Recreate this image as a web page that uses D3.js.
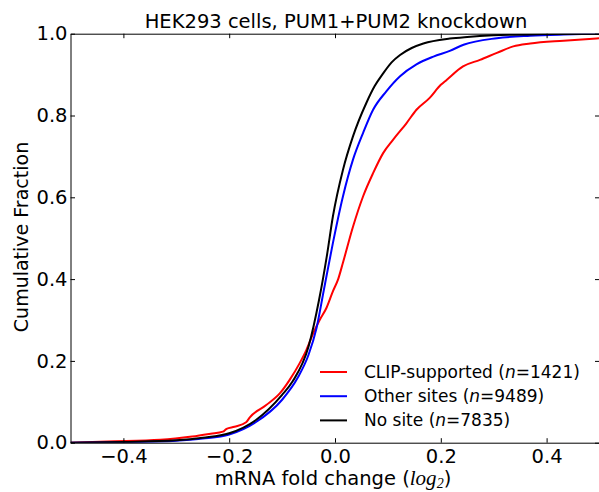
<!DOCTYPE html>
<html>
<head>
<meta charset="utf-8">
<script src="https://cdn.jsdelivr.net/npm/d3@7"></script>
<style>
  body { margin: 0; background: #fff; }
  text { font-family: "DejaVu Sans", sans-serif; fill: #000; }
</style>
</head>
<body>
<div id="chart"></div>
<script>
// Series: fold change (log2) and cumulative fraction
var clipX = [-0.5, -0.43, -0.33, -0.27, -0.235, -0.212, -0.205, -0.19, -0.168, -0.161, -0.13, -0.104, -0.086, -0.067, -0.054, -0.041, -0.029, -0.016, -0.004, 0.006, 0.015, 0.034, 0.053, 0.072, 0.091, 0.11, 0.135, 0.154, 0.179, 0.2, 0.211, 0.242, 0.274, 0.306, 0.337, 0.369, 0.432, 0.5];
var clipF = [0, 0.003, 0.007, 0.015, 0.022, 0.027, 0.034, 0.039, 0.05, 0.062, 0.092, 0.121, 0.153, 0.194, 0.227, 0.268, 0.3, 0.33, 0.37, 0.4, 0.44, 0.528, 0.602, 0.659, 0.708, 0.741, 0.781, 0.814, 0.843, 0.875, 0.887, 0.92, 0.936, 0.953, 0.969, 0.976, 0.983, 0.989];

var otherX = [-0.5, -0.4, -0.3, -0.25, -0.2, -0.15, -0.1, -0.07, -0.05, -0.035, -0.021, -0.004, 0.015, 0.034, 0.053, 0.072, 0.097, 0.123, 0.154, 0.186, 0.217, 0.243, 0.306, 0.369, 0.432, 0.5];
var otherF = [0, 0.001, 0.005, 0.01, 0.02, 0.05, 0.105, 0.16, 0.215, 0.28, 0.374, 0.488, 0.602, 0.692, 0.757, 0.814, 0.859, 0.896, 0.925, 0.944, 0.958, 0.973, 0.989, 0.995, 0.998, 1.0];

var noneX = [-0.5, -0.4, -0.3, -0.25, -0.2, -0.15, -0.1, -0.08, -0.05, -0.03, -0.015, -0.004, 0.015, 0.034, 0.059, 0.075, 0.091, 0.107, 0.123, 0.145, 0.167, 0.217, 0.25, 0.3, 0.4, 0.5];
var noneF = [0, 0.002, 0.006, 0.012, 0.023, 0.055, 0.117, 0.15, 0.235, 0.35, 0.46, 0.553, 0.667, 0.749, 0.83, 0.872, 0.903, 0.93, 0.948, 0.965, 0.976, 0.988, 0.992, 0.996, 0.999, 1.0];

var seriesNames = ["CLIP-supported", "Other sites", "No site"];
var seriesN = ["1421", "9489", "7835"];
var seriesColors = ["#ff0000", "#0000ff", "#000000"];

var xTicks = [-0.4, -0.2, 0.0, 0.2, 0.4];
var yTicks = [0.0, 0.2, 0.4, 0.6, 0.8, 1.0];

// SVG window
var svgWidth = 599;
var svgHeight = 492;
var plot = { left: 70.5, right: 599.5, top: 33.7, bottom: 442.7 };

var svg = d3.select("#chart")
  .append("svg")
  .attr("width", svgWidth)
  .attr("height", svgHeight);

var xScale = d3.scaleLinear().domain([-0.5, 0.5]).range([plot.left, plot.right]);
var yScale = d3.scaleLinear().domain([0, 1]).range([plot.bottom, plot.top]);

svg.append("clipPath").attr("id", "clip")
  .append("rect")
  .attr("x", plot.left).attr("y", plot.top)
  .attr("width", plot.right - plot.left).attr("height", plot.bottom - plot.top);

// curves
var line = d3.line()
  .x(d => xScale(d[0]))
  .y(d => yScale(d[1]))
  .curve(d3.curveMonotoneX);

var allX = [clipX, otherX, noneX];
var allF = [clipF, otherF, noneF];

allX.forEach(function(xs, i) {
  var pts = xs.map((v, j) => [v, allF[i][j]]);
  svg.append("path")
    .datum(pts)
    .attr("clip-path", "url(#clip)")
    .attr("fill", "none")
    .attr("stroke", seriesColors[i])
    .attr("stroke-width", 2)
    .attr("d", line);
});

// axes, ticks pointing inward
var fmt = d3.format(".1f");

var bottomAxis = svg.append("g")
  .attr("transform", `translate(0, ${plot.bottom})`)
  .call(d3.axisBottom(xScale).tickValues(xTicks).tickFormat(fmt)
    .tickSizeInner(-4.5).tickSizeOuter(0).tickPadding(6));

var topAxis = svg.append("g")
  .attr("transform", `translate(0, ${plot.top})`)
  .call(d3.axisTop(xScale).tickValues(xTicks).tickFormat("")
    .tickSizeInner(-4.5).tickSizeOuter(0));

var leftAxis = svg.append("g")
  .attr("transform", `translate(${plot.left}, 0)`)
  .call(d3.axisLeft(yScale).tickValues(yTicks).tickFormat(fmt)
    .tickSizeInner(-4.5).tickSizeOuter(0).tickPadding(3));

var rightAxis = svg.append("g")
  .attr("transform", `translate(${plot.right}, 0)`)
  .call(d3.axisRight(yScale).tickValues(yTicks).tickFormat("")
    .tickSizeInner(-4.5).tickSizeOuter(0));

svg.selectAll(".domain").attr("stroke", "#000").attr("stroke-width", 1);
svg.selectAll(".tick line").attr("stroke", "#000").attr("stroke-width", 1);
svg.selectAll(".tick text")
  .style("font-family", '"DejaVu Sans", sans-serif')
  .style("font-size", "19.5px")
  .attr("fill", "#000");

// title
svg.append("text")
  .attr("x", 336)
  .attr("y", 28)
  .attr("text-anchor", "middle")
  .style("font-size", "19.5px")
  .text("HEK293 cells, PUM1+PUM2 knockdown");

// y label
svg.append("text")
  .attr("transform", "translate(28, 237) rotate(-90)")
  .attr("text-anchor", "middle")
  .style("font-size", "19px")
  .text("Cumulative Fraction");

// x label
var xLabel = svg.append("text")
  .attr("x", 333)
  .attr("y", 484.5)
  .attr("text-anchor", "middle")
  .style("font-size", "19.5px");
xLabel.append("tspan").text("mRNA fold change (");
xLabel.append("tspan")
  .style("font-family", '"Liberation Serif", serif')
  .style("font-style", "italic")
  .style("font-size", "21px")
  .text("log");
xLabel.append("tspan")
  .style("font-family", '"Liberation Serif", serif')
  .style("font-style", "italic")
  .style("font-size", "14px")
  .attr("dy", 3)
  .text("2");
xLabel.append("tspan")
  .attr("dy", -3)
  .text(")");

// legend
var legend = svg.append("g");
seriesNames.forEach(function(name, i) {
  var yb = 378 + i * 24.2;
  legend.append("line")
    .attr("x1", 320).attr("x2", 347)
    .attr("y1", yb - 6).attr("y2", yb - 6)
    .attr("stroke", seriesColors[i])
    .attr("stroke-width", 2);
  var t = legend.append("text")
    .attr("x", 364)
    .attr("y", yb)
    .style("font-size", "17px");
  t.append("tspan").text(name + " (");
  t.append("tspan").style("font-style", "italic").text("n");
  t.append("tspan").text("=" + seriesN[i] + ")");
});
</script>
</body>
</html>
